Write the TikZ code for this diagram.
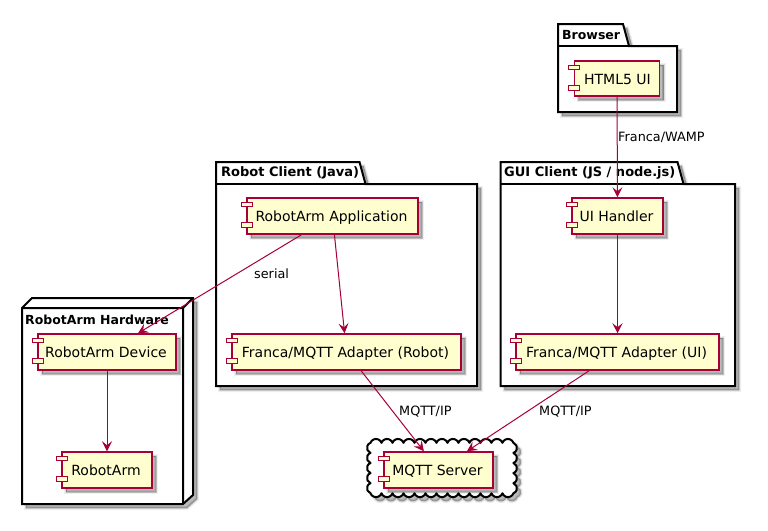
\documentclass[tikz,border=0pt]{standalone}
\usepackage{fontspec}
\setmainfont{DejaVu Sans}
\usetikzlibrary{arrows.meta,calc}
\definecolor{umlred}{HTML}{A80036}
\definecolor{umlfill}{HTML}{FEFECE}
\tikzset{
  softshadow/.style={
    preaction={draw=black,fill=black,opacity=.06,line width=4pt,transform canvas={shift={(4,4)}}},
    preaction={draw=black,fill=black,opacity=.09,line width=2.4pt,transform canvas={shift={(4,4)}}},
    preaction={draw=black,fill=black,opacity=.14,line width=.8pt,transform canvas={shift={(4,4)}}}},
  comp/.style={draw=umlred,fill=umlfill,line width=1.5pt,inner sep=0pt,softshadow,font=\fontsize{14}{16}\selectfont,text=black,text height=11pt,text depth=0pt},
  nub/.style={draw=umlred,fill=umlfill,line width=1.2pt},
  pkg/.style={draw=black,line width=2pt,fill=white,line join=miter},
  cloudshape/.style={pkg,line join=round},
  pkgline/.style={draw=black,line width=2pt},
  title/.style={font=\bfseries\fontsize{13}{16}\selectfont,inner sep=0pt,anchor=west},
  smalltitle/.style={title,font=\bfseries\fontsize{12.5}{16}\selectfont},
  lbl/.style={font=\fontsize{12.8}{15}\selectfont,inner sep=0pt,anchor=west,text=black},
  link/.style={draw=umlred,line width=1pt,-{Stealth[length=10pt,width=10pt,inset=4pt]}},
}
\newcommand{\pkgshape}[6]{% x0 ytop x1 ybody ybottom tabx
  \path[pkg,softshadow] (#1,#2) -- (#6,#2) -- ({#6+6},#4) -- (#3,#4) -- (#3,#5) -- (#1,#5) -- cycle;
  \draw[pkgline] (#1,#4) -- ({#6+6},#4);
}
\newcommand{\nubs}[1]{%
  \draw[nub] ($(#1.north west)+(-5,5)$) rectangle ++(11,4.5);
  \draw[nub] ($(#1.north west)+(-5,25.5)$) rectangle ++(11,4.5);
}
\newcommand{\comp}[6]{% name x0 y0 x1 y1 text
  \node[comp,minimum width={#4pt-#2pt},minimum height={#5pt-#3pt}] (#1) at ({(#2+#4)/2},{(#3+#5)/2}) {#6\hspace*{2pt}};
  \nubs{#1}
}
\begin{document}
\begin{tikzpicture}[x=1pt,y=-1pt]
\useasboundingbox (0,0) rectangle (768,530);
\fill[white] (0,0) rectangle (768,530);
% packages
\pkgshape{558}{24}{677}{46}{112}{623}
\node[smalltitle] (tbrowser) at (562,35) {Browser};
\pkgshape{500.5}{162}{735}{184}{386}{677.5}
\node[title] (tgui) at (504,173) {GUI Client (JS / node.js)};
\pkgshape{216}{162}{477}{184}{386}{359.5}
\node[title] (trobot) at (221,173) {Robot Client (Java)};
% node (3D box)
\path[pkg,softshadow] (22,308) -- (32,298) -- (193,298) -- (193,495) -- (183,504) -- (22,504) -- cycle;
\draw[pkgline] (22,308) -- (183,308) -- (193,298) (183,308) -- (183,504);
\node[smalltitle] (thw) at (25,320) {RobotArm Hardware};
% cloud
\path[cloudshape,softshadow] (370.5,442.8)
  \foreach \i in {1,...,13} { arc[start angle=200,end angle=340,radius=5.85] }
  \foreach \i in {1,...,5} { arc[start angle=-70,end angle=70,radius=5.37] }
  \foreach \i in {1,...,13} { arc[start angle=20,end angle=160,radius=5.85] }
  \foreach \i in {1,...,5} { arc[start angle=110,end angle=250,radius=5.37] } -- cycle;
% components
\comp{html}{574.5}{61}{659.5}{96}{\hspace*{3pt}HTML5 UI}
\comp{uih}{572}{198}{663}{234}{UI Handler}
\comp{adui}{516}{334}{719}{370}{Franca/MQTT Adapter (UI)}
\comp{app}{247}{198}{418}{234}{RobotArm Application}
\comp{adrobot}{232}{334}{461}{370}{Franca/MQTT Adapter (Robot)}
\comp{dev}{38}{334}{176}{370}{RobotArm Device}
\comp{arm}{62}{452}{152}{488}{RobotArm}
\comp{mqtt}{384}{452}{493}{488}{MQTT Server}
% connectors
\draw[link] (html) -- (uih);
\draw[link] (uih) -- (adui);
\draw[link] (app) -- (adrobot);
\draw[link] (app) -- (dev);
\draw[link] (dev) -- (arm);
\draw[link] (adrobot) -- (mqtt);
\draw[link] (adui) -- (mqtt);
% labels
\node[lbl] (lwamp) at (618,137) {Franca/WAMP};
\node[lbl] (lserial) at (254,273.5) {serial};
\node[lbl] (lmq1) at (399,412) {MQTT/IP};
\node[lbl] (lmq2) at (539,412) {MQTT/IP};
\end{tikzpicture}
\end{document}
